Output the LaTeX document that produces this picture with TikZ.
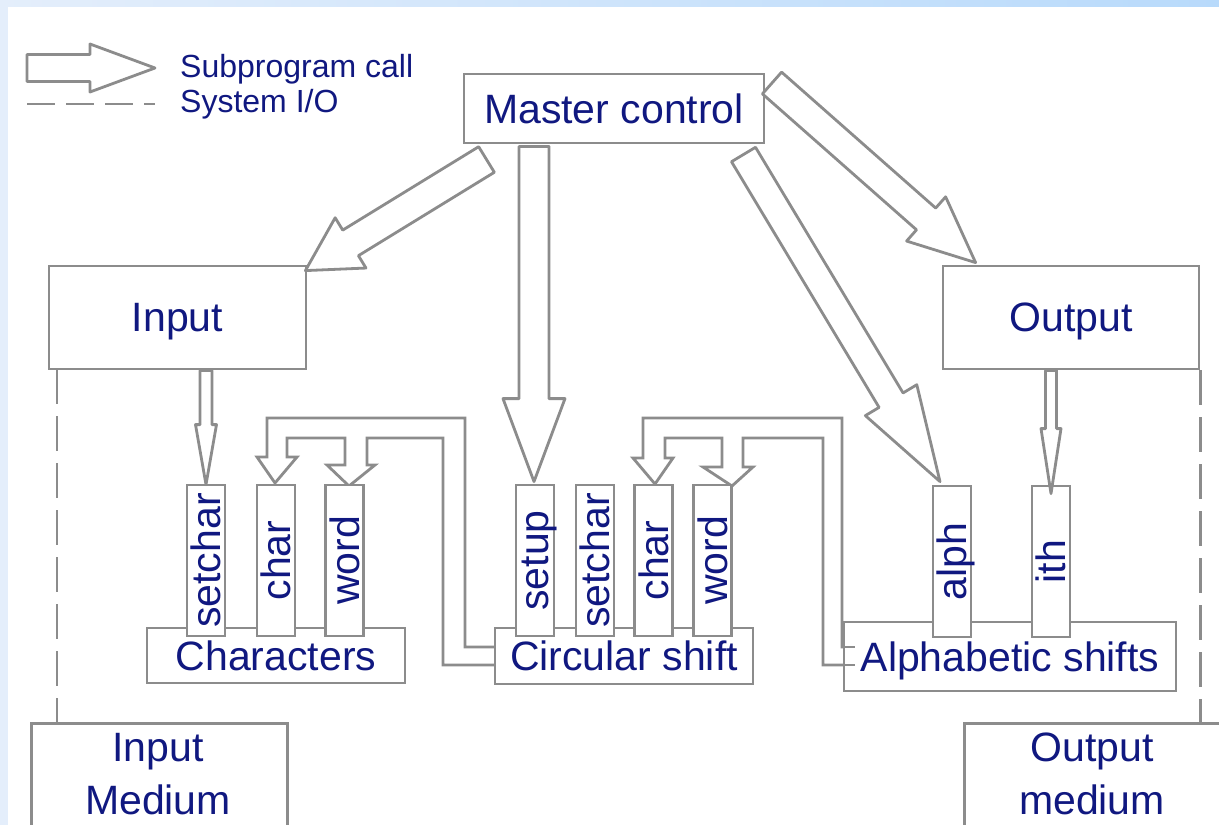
\documentclass[tikz,border=0pt]{standalone}
\usepackage{fontspec}
\setmainfont{Liberation Sans}
\usetikzlibrary{calc}
\definecolor{ln}{RGB}{140,140,140}
\definecolor{tx}{RGB}{16,24,128}
\definecolor{bgA}{RGB}{228,238,251}
\definecolor{bgB}{RGB}{184,218,251}
% #1 start, #2 tip, #3 shaft half width, #4 head half width, #5 head length
\newcommand{\callarrow}[5]{%
  \coordinate (ca-h) at ($(#2)!#5!(#1)$);
  \filldraw[calltip] ($(#1)!#3!90:(#2)$) -- ($(ca-h)!#3!90:(#2)$) -- ($(ca-h)!#4!90:(#2)$) -- (#2)
     -- ($(ca-h)!#4!-90:(#2)$) -- ($(ca-h)!#3!-90:(#2)$) -- ($(#1)!#3!-90:(#2)$) -- cycle;
}
\begin{document}
\begin{tikzpicture}[x=1pt,y=-1pt,
  modbox/.style={draw=ln, line width=2.8pt, fill=white, inner sep=0pt, text=tx,
    font=\fontsize{41}{45}\selectfont, align=center, text depth=0pt},
  subbox/.style={modbox, rotate=90, minimum width=151pt, minimum height=38pt},
  txtnode/.style={inner sep=0pt, text=tx, font=\fontsize{41}{53}\selectfont, align=center, text depth=0pt},
  calltip/.style={draw=ln, line width=2.8pt, fill=white, line join=round},
  pipe/.style={draw=ln, line width=2.8pt, fill=white, line join=miter},
  io/.style={draw=ln, line width=2.8pt, dash pattern=on 35pt off 12pt},
  legtxt/.style={text=tx, font=\fontsize{32}{35}\selectfont, inner sep=0pt, anchor=base west}]
\useasboundingbox (0,0) rectangle (1219,825);
\clip (0,0) rectangle (1219,825);
% background frame
\fill[left color=bgA, right color=bgB] (0,0) rectangle (1219,825);
\fill[white] (8,7) rectangle (1219,825);

% internal call pipes (drawn beneath the module boxes)
\filldraw[pipe] (510,647) -- (465,647) -- (465,418) -- (267,418) -- (267,457) -- (257,457) -- (275,483)
  -- (297,457) -- (287,457) -- (287,438) -- (345,438) -- (345,465) -- (327,465) -- (349,486)
  -- (375,465) -- (367,465) -- (367,438) -- (443,438) -- (443,665) -- (510,665);
\filldraw[pipe] (850,665) -- (823,665) -- (823,438) -- (743,438) -- (743,467) -- (753,467) -- (732,486)
  -- (703,467) -- (722,467) -- (722,438) -- (665,438) -- (665,458) -- (673,458) -- (655,484)
  -- (633,458) -- (643,458) -- (643,418) -- (842,418) -- (842,647) -- (850,647);

% modules
\node[modbox, minimum width=300pt, minimum height=69pt] (master) at (614,108.5) {Master control};
\node[modbox, minimum width=257pt, minimum height=103pt] (input) at (177.5,317.5) {Input};
\node[modbox, minimum width=256pt, minimum height=103pt] (output) at (1071,317.5) {Output};
\node[modbox, minimum width=258pt, minimum height=55pt] (chars) at (276,655.5) {Characters};
\node[modbox, minimum width=258pt, minimum height=56pt] (circ) at (624,656) {Circular shift};
\node[modbox, minimum width=332pt, minimum height=69pt] (alpha) at (1010,656.5) {Alphabetic shifts};
\draw[draw=ln, line width=2.8pt] (844,647) -- (855,647) (844,665) -- (855,665);

\node[subbox] (csetchar) at (206,560.5) {setchar};
\node[subbox] (cchar) at (276,560.5) {char};
\node[subbox] (cword) at (344.5,560.5) {word};
\node[subbox] (ssetup) at (535,560.5) {setup};
\node[subbox] (ssetchar) at (595,560.5) {setchar};
\node[subbox] (schar) at (653.5,560.5) {char};
\node[subbox] (sword) at (712.5,560.5) {word};
\node[subbox] (aalph) at (952,561.5) {alph};
\node[subbox] (aith) at (1051,561.5) {ith};

\node[modbox, anchor=north west, minimum width=256pt, minimum height=115pt] (inmedbox) at (30,722) {};
\node[txtnode] (inmed) at (158,774) {Input\\Medium};
\node[modbox, anchor=north west, minimum width=280pt, minimum height=115pt] (outmedbox) at (963,722) {};
\node[txtnode] (outmed) at (1092,774) {Output\\medium};

% subprogram calls
\coordinate (a1s) at (486.5,159.5);
\coordinate (a1t) at ($(input.north east)+(-2,6)$);
\callarrow{a1s}{a1t}{15pt}{29.5pt}{53pt}
\coordinate (a2s) at ($(ssetup.east |- master.south)+(-1,2)$);
\coordinate (a2t) at ($(ssetup.east)+(-1,-2)$);
\callarrow{a2s}{a2t}{15pt}{31pt}{83pt}
\coordinate (a3s) at (772,83);
\coordinate (a3t) at ($(output.north west)+(34,-2)$);
\callarrow{a3s}{a3t}{14.5pt}{29.5pt}{66pt}
\coordinate (a4s) at (743.5,154.5);
\coordinate (a4t) at ($(aalph.east)+(-12,-3)$);
\callarrow{a4s}{a4t}{14pt}{30pt}{95pt}
\coordinate (a5s) at (input.south -| csetchar.east);
\coordinate (a5t) at ($(csetchar.east)+(0,1)$);
\callarrow{a5s}{a5t}{6pt}{10.5pt}{60pt}
\coordinate (a6s) at (output.south -| aith.east);
\coordinate (a6t) at ($(aith.east)+(0,9)$);
\callarrow{a6s}{a6t}{5.5pt}{10pt}{65pt}

% system I/O
\coordinate (inio) at (57,369);
\draw[io] (inio) -- (inio |- inmedbox.north);
\draw[io] (output.south east) -- (output.south east |- outmedbox.north);

% legend
\coordinate (lgs) at (27,68);
\coordinate (lgt) at (155,68);
\callarrow{lgs}{lgt}{13.5pt}{24pt}{65pt}
\coordinate (lds) at (27,104);
\coordinate (ldt) at (155,104);
\draw[draw=ln, line width=2.8pt, dash pattern=on 28pt off 11pt] (lds) -- (ldt);
\node[legtxt] (leg1) at (180,77) {Subprogram call};
\node[legtxt] (leg2) at (180,112) {System I/O};
\end{tikzpicture}
\end{document}
